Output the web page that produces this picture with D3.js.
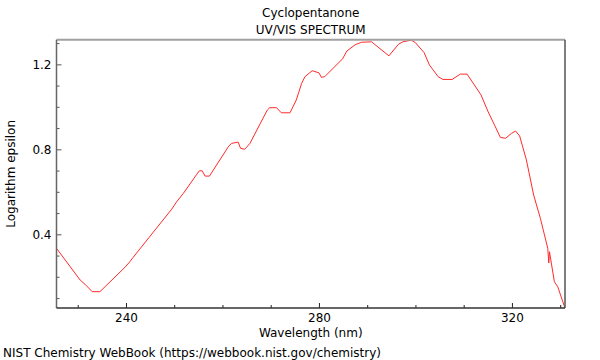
<!DOCTYPE html>
<html>
<head>
<meta charset="utf-8">
<script src="https://cdn.jsdelivr.net/npm/d3@7"></script>
<style>
  html, body { margin: 0; padding: 0; background: #fff; }
  svg { display: block; font-family: "DejaVu Sans", sans-serif; }
</style>
</head>
<body>
<svg id="chart" width="600" height="360"></svg>
<script>
const titleLines = ["Cyclopentanone", "UV/VIS SPECTRUM"];
const xLabel = "Wavelength (nm)";
const yLabel = "Logarithm epsilon";
const footer = "NIST Chemistry WebBook (https://webbook.nist.gov/chemistry)";

const wavelength = [225.7, 230.5, 231.5, 233.0, 234.6, 239.8, 240.8, 241.5, 249.5, 250.5, 251.9,
  254.6, 255.2, 255.8, 256.4, 257.3, 261.3, 261.9, 263.25, 263.75, 264.6, 265.7, 268.4,
  269.3, 269.8, 271.2, 272.2, 274.0, 275.3, 276.4, 277.1, 278.6, 280.0, 280.5, 281.2,
  284.9, 285.8, 287.5, 288.8, 290.9, 294.5, 296.5, 297.4, 299.15, 300.0, 301.8, 302.9,
  304.7, 305.7, 307.6, 309.3, 310.7, 313.6, 315.0, 316.4, 317.6, 318.7,
  319.9, 320.75, 321.6, 323.0, 324.5, 325.9, 327.43, 327.64, 327.78, 328.8,
  329.5, 330.9];
const logEpsilon = [0.331, 0.185, 0.165, 0.130, 0.130, 0.245, 0.271, 0.292, 0.519, 0.553, 0.593,
  0.680, 0.699, 0.699, 0.674, 0.674, 0.815, 0.828, 0.834, 0.805, 0.800, 0.828, 0.946,
  0.985, 0.996, 0.996, 0.972, 0.972, 1.032, 1.110, 1.142, 1.170, 1.160, 1.139, 1.142,
  1.226, 1.263, 1.292, 1.304, 1.306, 1.240, 1.295, 1.306, 1.314, 1.302, 1.255, 1.197,
  1.142, 1.129, 1.129, 1.154, 1.154, 1.056, 0.980, 0.914, 0.856, 0.852,
  0.875, 0.886, 0.863, 0.750, 0.585, 0.475, 0.334, 0.265, 0.318, 0.177,
  0.153, 0.059];
const xMajorTicks = [240, 280, 320];
const xMinorTicks = [230, 250, 260, 270, 290, 300, 310, 330];
const yMajorTicks = [0.4, 0.8, 1.2];
const yMinorTicks = [0.1, 0.2, 0.3, 0.5, 0.6, 0.7, 0.9, 1.0, 1.1, 1.3];

const svg = d3.select("#chart");
const L = 56.5, R = 565, T = 39.7, B = 308;

const x = d3.scaleLinear().domain([225.6, 331.0]).range([L, R]);
const y = d3.scaleLinear().domain([0.0532, 1.316]).range([B, T]);

const data = wavelength.map((w, i) => ({ w, v: logEpsilon[i] }));

// title
svg.selectAll("text.title").data(titleLines).join("text")
  .attr("class", "title")
  .attr("x", (L + R) / 2).attr("y", (d, i) => 17 + i * 17)
  .attr("text-anchor", "middle").attr("font-size", 12).attr("fill", "#000")
  .text(d => d);

// clip
svg.append("clipPath").attr("id", "clip").append("rect")
  .attr("x", L).attr("y", T - 2).attr("width", R - L).attr("height", B - T + 2);

// curve
const line = d3.line().x(d => x(d.w)).y(d => y(d.v));
svg.append("path").datum(data)
  .attr("clip-path", "url(#clip)")
  .attr("d", line).attr("fill", "none")
  .attr("stroke", "#ff2a2a").attr("stroke-width", 1)
  .attr("stroke-linejoin", "round");

// axes (ticks inside)
const xAxisMajor = d3.axisTop(x).tickValues(xMajorTicks).tickSize(5).tickFormat("");
const xAxisMinor = d3.axisTop(x).tickValues(xMinorTicks).tickSize(3).tickFormat("");
const gx = svg.append("g").attr("transform", `translate(0,${B})`);
gx.append("g").call(xAxisMajor);
gx.append("g").call(xAxisMinor);
gx.selectAll(".domain").remove();
gx.selectAll("line").attr("stroke", "#222");

// x labels below
const gxl = svg.append("g").attr("transform", `translate(0,${B})`)
  .call(d3.axisBottom(x).tickValues(xMajorTicks).tickSize(0).tickPadding(5).tickFormat(d3.format("d")));
gxl.select(".domain").remove();
gxl.selectAll("text").attr("font-size", 12).attr("font-family", "DejaVu Sans, sans-serif").attr("fill", "#000");

const yAxisMajor = d3.axisRight(y).tickValues(yMajorTicks).tickSize(5).tickFormat("");
const yAxisMinor = d3.axisRight(y).tickValues(yMinorTicks).tickSize(3).tickFormat("");
const gy = svg.append("g").attr("transform", `translate(${L},0)`);
gy.append("g").call(yAxisMajor);
gy.append("g").call(yAxisMinor);
gy.selectAll(".domain").remove();
gy.selectAll("line").attr("stroke", "#555");

const gyl = svg.append("g").attr("transform", `translate(${L},0)`)
  .call(d3.axisLeft(y).tickValues(yMajorTicks).tickSize(0).tickPadding(5).tickFormat(d3.format(".1f")));
gyl.select(".domain").remove();
gyl.selectAll("text").attr("font-size", 12).attr("font-family", "DejaVu Sans, sans-serif").attr("fill", "#000");

// frame
svg.append("line").attr("x1", L).attr("x2", R).attr("y1", T).attr("y2", T)
  .attr("stroke", "#a0a0a0").attr("stroke-width", 2);
svg.append("line").attr("x1", R).attr("x2", R).attr("y1", T).attr("y2", B)
  .attr("stroke", "#555").attr("stroke-width", 1.5);
svg.append("line").attr("x1", L).attr("x2", L).attr("y1", T).attr("y2", B)
  .attr("stroke", "#666").attr("stroke-width", 1.5);
svg.append("line").attr("x1", L).attr("x2", R).attr("y1", B).attr("y2", B)
  .attr("stroke", "#333").attr("stroke-width", 1.5);

// axis titles
svg.append("text").attr("x", (L + R) / 2).attr("y", 337)
  .attr("text-anchor", "middle").attr("font-size", 12).attr("fill", "#000").text(xLabel);
svg.append("text").attr("transform", `translate(15,${(T + B) / 2}) rotate(-90)`)
  .attr("text-anchor", "middle").attr("font-size", 12).attr("fill", "#000").text(yLabel);

svg.append("text").attr("x", 3).attr("y", 357)
  .attr("font-size", 12).attr("fill", "#000").text(footer);
</script>
</body>
</html>
